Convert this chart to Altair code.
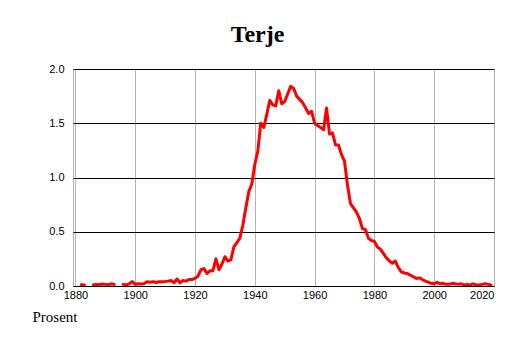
import altair as alt
import pandas as pd

first_year = 1880
values = [
    None, None, 0.012, 0.010, None, None, 0.012, 0.015, 0.012, 0.018,   # 1880-1889
    0.015, 0.012, 0.020, 0.015, None, None, 0.015, 0.010, 0.020, 0.040,  # 1890-1899
    0.015, 0.020, 0.018, 0.022, 0.040, 0.035, 0.040, 0.032, 0.040, 0.040,  # 1900-1909
    0.042, 0.045, 0.050, 0.030, 0.065, 0.030, 0.050, 0.045, 0.060, 0.060,  # 1910-1919
    0.070, 0.090, 0.150, 0.160, 0.115, 0.140, 0.140, 0.250, 0.150, 0.200,  # 1920-1929
    0.270, 0.230, 0.240, 0.360, 0.400, 0.440, 0.560, 0.720, 0.870, 0.940,  # 1930-1939
    1.120, 1.240, 1.500, 1.460, 1.580, 1.710, 1.670, 1.660, 1.800, 1.680,  # 1940-1949
    1.700, 1.770, 1.840, 1.820, 1.750, 1.720, 1.690, 1.640, 1.590, 1.610,  # 1950-1959
    1.500, 1.480, 1.460, 1.440, 1.640, 1.400, 1.410, 1.300, 1.300, 1.210,  # 1960-1969
    1.150, 0.930, 0.760, 0.720, 0.680, 0.620, 0.530, 0.520, 0.440, 0.420,  # 1970-1979
    0.410, 0.360, 0.340, 0.300, 0.260, 0.230, 0.210, 0.230, 0.170, 0.130,  # 1980-1989
    0.120, 0.115, 0.100, 0.085, 0.070, 0.075, 0.060, 0.045, 0.035, 0.025,  # 1990-1999
    0.020, 0.035, 0.020, 0.025, 0.015, 0.015, 0.025, 0.020, 0.015, 0.020,  # 2000-2009
    0.010, 0.015, 0.010, 0.020, 0.010, 0.010, 0.015, 0.020, 0.015, 0.010,  # 2010-2019
]
years = list(range(first_year, first_year + len(values)))
x_ticks = [1880, 1900, 1920, 1940, 1960, 1980, 2000, 2020]
y_ticks = [0.0, 0.5, 1.0, 1.5, 2.0]

rows = []
seg = 0
prev_none = True
for yr, v in zip(years, values):
    if v is None:
        prev_none = True
        continue
    if prev_none:
        seg += 1
        prev_none = False
    rows.append({"year": yr, "value": v, "seg": seg})
df = pd.DataFrame(rows)

line = alt.Chart(df).mark_line(
    color="#ff0000", strokeWidth=3, strokeCap="round", strokeJoin="round", clip=True
).encode(
    x=alt.X("year:Q",
            scale=alt.Scale(domain=[1879.2, 2020], nice=False, zero=False),
            axis=alt.Axis(values=x_ticks, format="d", grid=True, gridColor="#b3b3b3",
                          gridWidth=1, ticks=False, domain=True, domainColor="#000000",
                          labelFont="Liberation Sans", labelFontSize=11, labelColor="#000000",
                          labelPadding=3,
                          labelAlign=alt.expr("datum.value == 2020 ? 'right' : 'center'"),
                          title="Prosent", titleFont="Liberation Serif", titleFontSize=15,
                          titleFontWeight="normal", titleColor="#000000",
                          titleAnchor="start", titleAlign="left", titleBaseline="alphabetic",
                          titleX=-41, titleY=35)),
    y=alt.Y("value:Q",
            scale=alt.Scale(domain=[0, 2], nice=False),
            axis=alt.Axis(values=y_ticks, format=".1f", grid=True, gridColor="#000000",
                          gridWidth=1, ticks=False, domain=False,
                          labelFont="Liberation Sans", labelFontSize=11, labelColor="#000000",
                          labelPadding=9, title=None)),
    detail="seg:N",
)

chart = line.properties(
    width=421,
    height=217,
    title=alt.TitleParams("Terje", font="Liberation Serif", fontSize=24, fontWeight="bold",
                          color="#000000", anchor="middle", frame="group", baseline="alphabetic",
                          offset=27, dx=-26, dy=30),
    autosize=alt.AutoSizeParams(type="none"),
    padding={"left": 65, "top": 61, "right": 12, "bottom": 40},
).configure_view(stroke="#b3b3b3", strokeWidth=1)

chart.save("out.html", embed_options={"renderer": "svg", "actions": False})
